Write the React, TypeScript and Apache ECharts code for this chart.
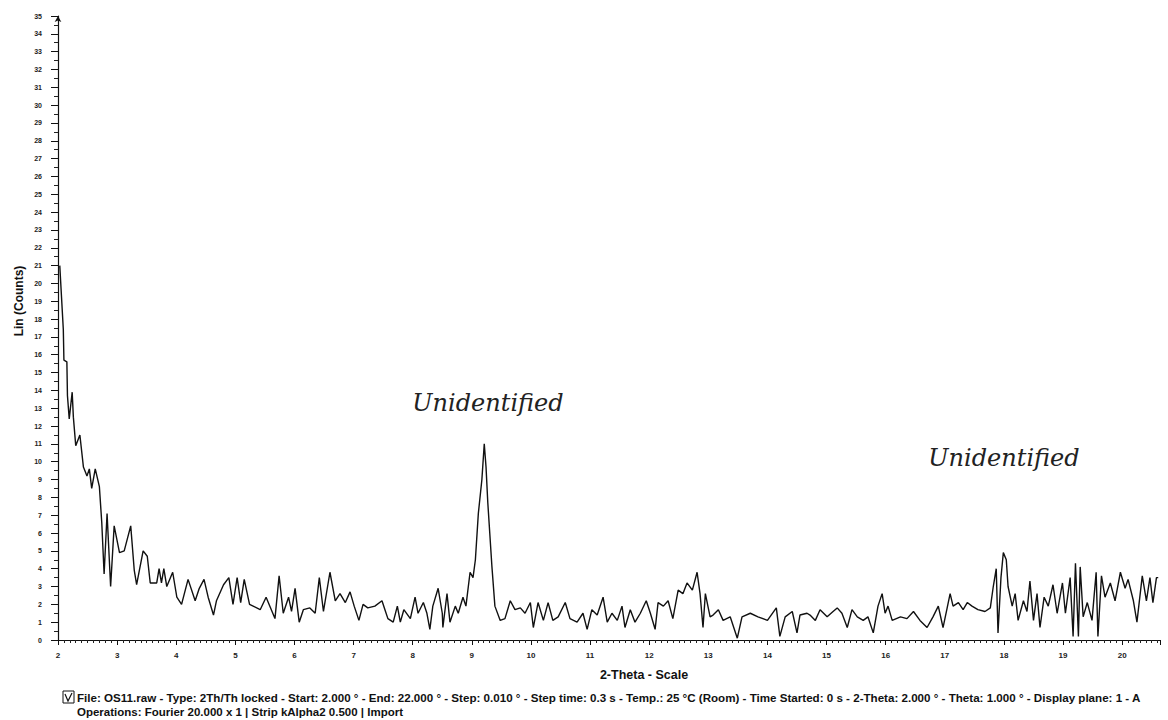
import React, { useEffect, useRef } from "react";
import * as echarts from "echarts";

// Diffraction scan: 2-Theta position (degrees) and linear counts
const twoTheta = [
  2.03, 2.09, 2.10, 2.15, 2.16, 2.19, 2.24, 2.26, 2.30, 2.37, 2.43, 2.49, 2.53, 2.57, 2.63, 2.70,
  2.74, 2.78, 2.83, 2.89, 2.95, 3.04, 3.12, 3.23, 3.29, 3.33, 3.44, 3.51, 3.56, 3.67, 3.71, 3.75,
  3.79, 3.84, 3.94, 4.01, 4.09, 4.20, 4.32, 4.39, 4.47, 4.54, 4.63, 4.68, 4.80, 4.89, 4.96, 5.03,
  5.09, 5.15, 5.24, 5.42, 5.52, 5.67, 5.74, 5.81, 5.90, 5.95, 6.01, 6.08, 6.15, 6.26, 6.35, 6.42,
  6.49, 6.60, 6.69, 6.77, 6.86, 6.94, 7.01, 7.09, 7.16, 7.24, 7.36, 7.48, 7.53, 7.58, 7.67, 7.74,
  7.79, 7.85, 7.96, 8.04, 8.09, 8.18, 8.24, 8.29, 8.34, 8.43, 8.50, 8.51, 8.58, 8.63, 8.72, 8.77,
  8.85, 8.90, 8.97, 9.02, 9.06, 9.11, 9.17, 9.21, 9.24, 9.27, 9.34, 9.39, 9.48, 9.56, 9.65, 9.73,
  9.82, 9.90, 9.99, 10.04, 10.12, 10.21, 10.29, 10.37, 10.46, 10.58, 10.66, 10.78, 10.88, 10.95, 11.03, 11.12,
  11.22, 11.29, 11.37, 11.46, 11.54, 11.59, 11.68, 11.76, 11.85, 11.95, 12.02, 12.10, 12.15, 12.24, 12.32, 12.40,
  12.49, 12.57, 12.64, 12.73, 12.81, 12.86, 12.91, 12.95, 13.03, 13.08, 13.17, 13.25, 13.37, 13.49, 13.57, 13.71,
  13.84, 14.00, 14.15, 14.21, 14.30, 14.42, 14.50, 14.55, 14.67, 14.72, 14.81, 14.89, 15.01, 15.11, 15.18, 15.26,
  15.35, 15.43, 15.52, 15.62, 15.70, 15.79, 15.87, 15.94, 15.99, 16.04, 16.11, 16.25, 16.36, 16.47, 16.58, 16.70,
  16.80, 16.89, 16.97, 17.04, 17.09, 17.14, 17.23, 17.31, 17.38, 17.46, 17.56, 17.68, 17.77, 17.82, 17.87, 17.90,
  17.95, 17.99, 18.04, 18.07, 18.14, 18.19, 18.24, 18.33, 18.39, 18.44, 18.50, 18.56, 18.61, 18.68, 18.75, 18.83,
  18.90, 18.99, 19.04, 19.12, 19.17, 19.21, 19.26, 19.29, 19.34, 19.41, 19.49, 19.56, 19.59, 19.65, 19.71, 19.80,
  19.88, 19.97, 20.05, 20.10, 20.19, 20.25, 20.34, 20.41, 20.47, 20.52, 20.58, 20.61,
];

const counts = [
  21.0, 17.4, 15.7, 15.6, 13.7, 12.4, 13.9, 12.5, 10.9, 11.5, 9.7, 9.2, 9.6, 8.5, 9.6, 8.6,
  6.6, 3.7, 7.1, 3.0, 6.4, 4.9, 5.0, 6.4, 3.9, 3.1, 5.0, 4.7, 3.2, 3.2, 4.0, 3.2,
  4.0, 3.0, 3.8, 2.4, 2.0, 3.4, 2.2, 2.9, 3.4, 2.4, 1.4, 2.2, 3.1, 3.5, 2.0, 3.5,
  2.1, 3.4, 2.0, 1.7, 2.4, 1.2, 3.6, 1.5, 2.4, 1.6, 2.9, 1.0, 1.7, 1.8, 1.5, 3.5,
  1.6, 3.8, 2.2, 2.6, 2.1, 2.7, 1.9, 1.1, 2.0, 1.8, 1.9, 2.2, 1.7, 1.2, 1.0, 1.9,
  1.0, 1.7, 1.2, 2.4, 1.5, 2.1, 1.5, 0.6, 1.9, 2.9, 1.5, 0.7, 2.6, 1.0, 1.9, 1.5,
  2.4, 1.9, 3.8, 3.5, 4.5, 7.1, 9.0, 11.0, 9.7, 7.7, 4.1, 1.9, 1.1, 1.2, 2.2, 1.7,
  1.8, 1.5, 2.1, 0.7, 2.1, 1.1, 2.1, 1.1, 1.3, 2.1, 1.2, 1.0, 1.5, 0.6, 1.7, 1.4,
  2.4, 1.0, 1.5, 1.1, 1.9, 0.7, 1.7, 1.0, 1.5, 2.2, 1.5, 0.6, 2.1, 1.9, 2.2, 1.2,
  2.8, 2.6, 3.2, 2.8, 3.8, 2.6, 0.7, 2.6, 1.3, 1.4, 1.7, 1.1, 1.3, 0.1, 1.3, 1.5,
  1.3, 1.1, 1.8, 0.2, 1.3, 1.6, 0.4, 1.4, 1.5, 1.4, 1.1, 1.7, 1.3, 1.6, 1.8, 1.5,
  0.7, 1.7, 1.3, 1.1, 1.3, 0.4, 1.9, 2.6, 1.5, 1.9, 1.1, 1.3, 1.2, 1.6, 1.1, 0.7,
  1.3, 1.9, 0.7, 1.8, 2.6, 1.9, 2.1, 1.7, 2.1, 1.9, 1.7, 1.6, 1.8, 3.0, 4.0, 0.4,
  3.5, 4.9, 4.5, 3.0, 1.9, 2.6, 1.1, 2.2, 1.6, 3.3, 1.1, 2.6, 0.7, 2.4, 1.9, 3.1,
  1.5, 3.2, 1.5, 3.5, 0.2, 4.3, 0.2, 4.1, 1.3, 2.1, 1.1, 3.8, 0.2, 3.6, 2.4, 3.2,
  2.2, 3.8, 2.9, 3.4, 2.2, 1.0, 3.6, 2.2, 3.5, 2.1, 3.5, 3.5,
];

// Axis ranges
const xMin = 2;
const xMax = 20.64;
const yMin = 0;
const yMax = 35;

// Peak annotation text
const noteText = "Unidentified";

// Instrument footer
const footerLines = [
  "File: OS11.raw - Type: 2Th/Th locked - Start: 2.000 ° - End: 22.000 ° - Step: 0.010 ° - Step time: 0.3 s - Temp.: 25 °C (Room) - Time Started: 0 s - 2-Theta: 2.000 ° - Theta: 1.000 ° - Display plane: 1 - A",
  "Operations: Fourier 20.000 x 1 | Strip kAlpha2 0.500 | Import",
];

const yTitle = "Lin (Counts)";
const xTitle = "2-Theta - Scale";

const sansFont = "'Liberation Sans', Arial, sans-serif";
const noteFont = "italic 24px 'DejaVu Serif', 'Liberation Serif', serif";

export default function App() {
  const ref = useRef<HTMLDivElement>(null);

  useEffect(() => {
    if (!ref.current) return;
    const chart = echarts.init(ref.current, undefined, { renderer: "svg" });
    const data = twoTheta.map((t, i) => [t, counts[i]]);

    chart.setOption({
      animation: false,
      backgroundColor: "#ffffff",
      grid: { left: 58, right: 8, top: 16, bottom: 80, containLabel: false },
      xAxis: {
        type: "value",
        min: xMin,
        max: xMax,
        interval: 1,
        axisLine: { show: true, lineStyle: { color: "#111", width: 1.2 } },
        axisTick: { show: true, length: 5, lineStyle: { color: "#111" } },
        minorTick: { show: true, splitNumber: 10, length: 3, lineStyle: { color: "#222" } },
        splitLine: { show: false },
        axisLabel: {
          show: true,
          margin: 11,
          fontSize: 8,
          fontWeight: "bold",
          color: "#222",
          fontFamily: sansFont,
          showMaxLabel: false,
        },
      },
      yAxis: {
        type: "value",
        min: yMin,
        max: yMax,
        interval: 1,
        axisLine: {
          show: true,
          lineStyle: { color: "#111", width: 1.2 },
          symbol: ["none", "arrow"],
          symbolSize: [5, 6],
        },
        axisTick: { show: true, length: 7, lineStyle: { color: "#111" } },
        minorTick: { show: true, splitNumber: 2, length: 4, lineStyle: { color: "#222" } },
        splitLine: { show: false },
        axisLabel: {
          show: true,
          margin: 16,
          fontSize: 7,
          fontWeight: "bold",
          color: "#222",
          fontFamily: sansFont,
        },
      },
      series: [
        {
          type: "line",
          data,
          showSymbol: false,
          symbol: "none",
          lineStyle: { color: "#111", width: 1.4 },
          z: 3,
        },
      ],
      graphic: [
        {
          type: "text",
          x: 19,
          y: 301,
          rotation: Math.PI / 2,
          style: {
            text: yTitle,
            fill: "#111",
            font: `bold 12px ${sansFont}`,
            textAlign: "center",
            textVerticalAlign: "middle",
          },
        },
        {
          type: "text",
          x: 644,
          y: 675,
          style: {
            text: xTitle,
            fill: "#111",
            font: `bold 12.5px ${sansFont}`,
            textAlign: "center",
            textVerticalAlign: "middle",
          },
        },
        {
          type: "text",
          x: 488,
          y: 403,
          style: {
            text: noteText,
            fill: "#222",
            font: noteFont,
            textAlign: "center",
            textVerticalAlign: "middle",
          },
        },
        {
          type: "text",
          x: 1004,
          y: 458,
          style: {
            text: noteText,
            fill: "#222",
            font: noteFont,
            textAlign: "center",
            textVerticalAlign: "middle",
          },
        },
        // footer icon
        {
          type: "rect",
          shape: { x: 63, y: 691, width: 11, height: 12 },
          style: { fill: "#fff", stroke: "#111", lineWidth: 1 },
        },
        {
          type: "polyline",
          shape: { points: [[65, 694], [68, 701], [72, 693]] },
          style: { fill: "none", stroke: "#111", lineWidth: 1.2 },
        },
        {
          type: "text",
          x: 77,
          y: 697,
          style: {
            text: footerLines[0],
            fill: "#111",
            font: `bold 11.6px ${sansFont}`,
            textAlign: "left",
            textVerticalAlign: "middle",
          },
        },
        {
          type: "text",
          x: 77,
          y: 712,
          style: {
            text: footerLines[1],
            fill: "#111",
            font: `bold 11.5px ${sansFont}`,
            textAlign: "left",
            textVerticalAlign: "middle",
          },
        },
      ],
    });

    return () => chart.dispose();
  }, []);

  return (
    <div
      ref={ref}
      style={{ position: "fixed", left: 0, top: 0, width: 1168, height: 720, background: "#fff" }}
    />
  );
}
